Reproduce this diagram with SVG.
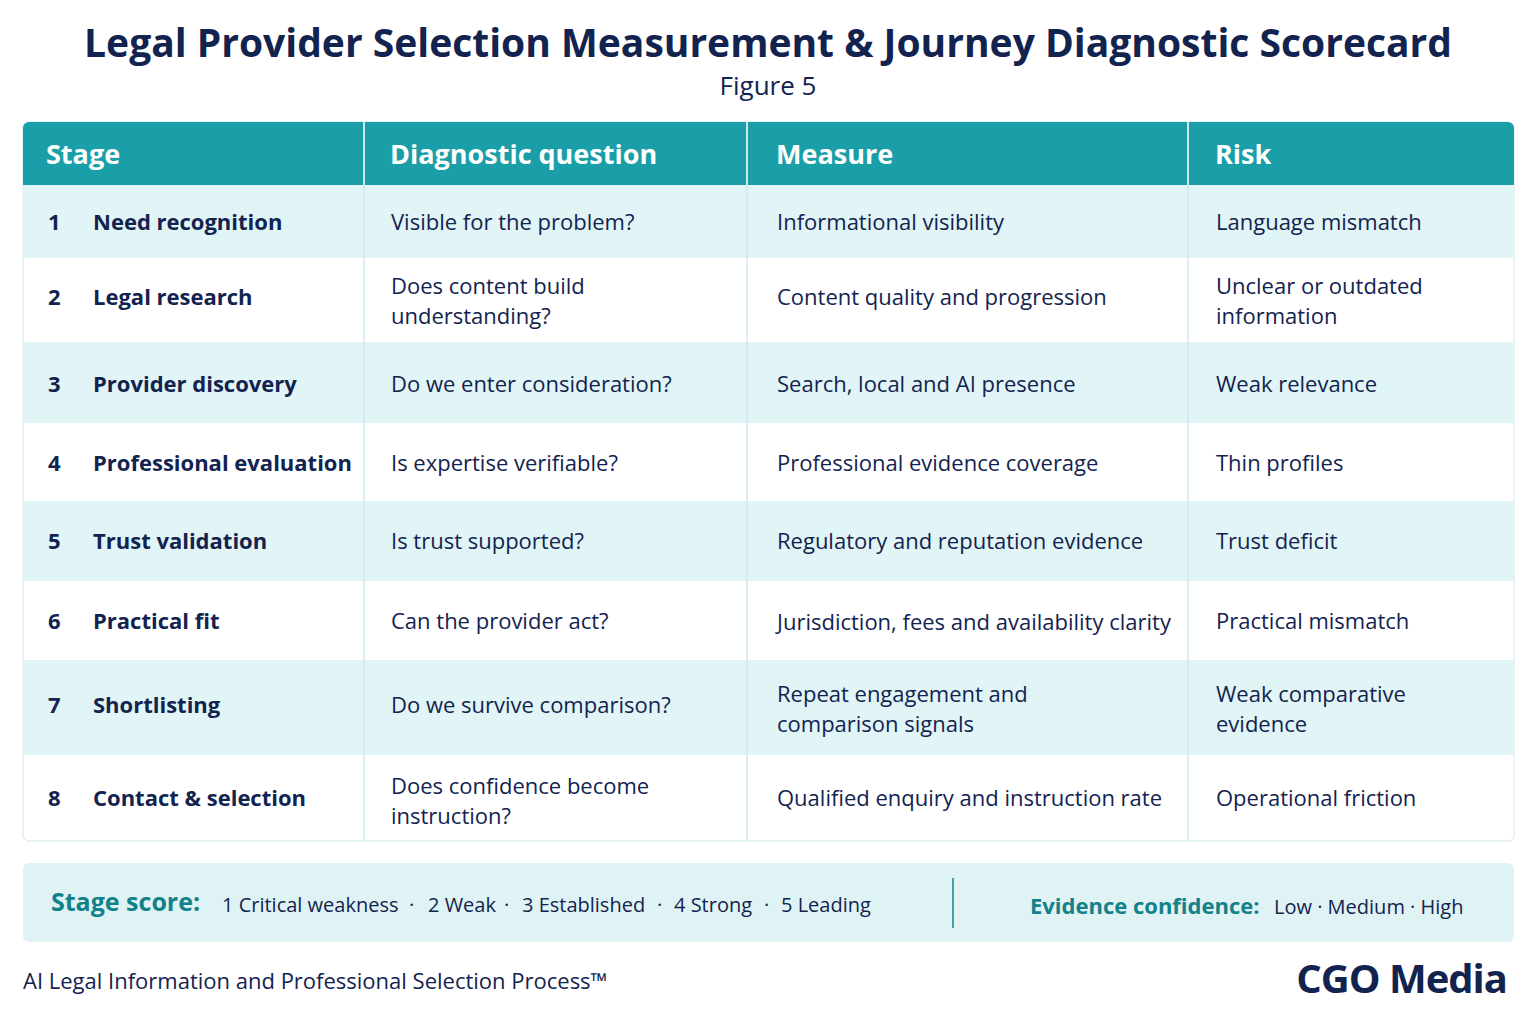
<svg xmlns="http://www.w3.org/2000/svg" width="1536" height="1024" viewBox="0 0 1536 1024">
<style>
text{font-family:"Open Sans","Liberation Sans",sans-serif;fill:#13234f}
.h{font-size:27px;font-weight:bold;fill:#fff}
.c{font-size:22px}
.n{font-size:22px;font-weight:bold}
.t{fill:#13818a;font-weight:bold}
.s{font-size:20px}
</style>
<rect width="1536" height="1024" fill="#fff"/>
<text x="768" y="57" text-anchor="middle" style="font-size:39px;font-weight:bold">Legal Provider Selection Measurement &amp; Journey Diagnostic Scorecard</text>
<text x="768" y="95" text-anchor="middle" style="font-size:26px">Figure 5</text>
<g id="table">
<rect x="23" y="122" width="1491" height="719" rx="6" fill="#fff" stroke="#cfe9ec"/>
<path d="M29 122H1508a6 6 0 0 1 6 6V185H23V128a6 6 0 0 1 6-6z" fill="#1a9fa8"/>
<g fill="#e1f4f6">
<rect x="24" y="185" width="1489" height="73"/>
<rect x="24" y="342" width="1489" height="81"/>
<rect x="24" y="501" width="1489" height="80"/>
<rect x="24" y="660" width="1489" height="95"/>
</g>
<g stroke="#cfe9ec" stroke-width="1.5">
<path d="M364 122V841M747 122V841M1188 122V841" />
</g>
<path d="M364 122V185M747 122V185M1188 122V185" stroke="#ffffff" stroke-opacity="0.6" stroke-width="1.5"/>
<text class="h" x="46" y="164">Stage</text>
<text class="h" x="390" y="164">Diagnostic question</text>
<text class="h" x="776" y="164">Measure</text>
<text class="h" x="1215" y="164">Risk</text>
<g id="rows">
<text class="n" x="48" y="230">1</text><text class="n" x="93" y="230">Need recognition</text><text class="c" x="391" y="230">Visible for the problem?</text><text class="c" x="777" y="230">Informational visibility</text><text class="c" x="1216" y="230">Language mismatch</text>
<text class="n" x="48" y="305">2</text><text class="n" x="93" y="305">Legal research</text><text class="c" x="391" y="294">Does content build</text><text class="c" x="391" y="324">understanding?</text><text class="c" x="777" y="305">Content quality and progression</text><text class="c" x="1216" y="294">Unclear or outdated</text><text class="c" x="1216" y="324">information</text>
<text class="n" x="48" y="392">3</text><text class="n" x="93" y="392">Provider discovery</text><text class="c" x="391" y="392">Do we enter consideration?</text><text class="c" x="777" y="392">Search, local and AI presence</text><text class="c" x="1216" y="392">Weak relevance</text>
<text class="n" x="48" y="471">4</text><text class="n" x="93" y="471">Professional evaluation</text><text class="c" x="391" y="471">Is expertise verifiable?</text><text class="c" x="777" y="471">Professional evidence coverage</text><text class="c" x="1216" y="471">Thin profiles</text>
<text class="n" x="48" y="549">5</text><text class="n" x="93" y="549">Trust validation</text><text class="c" x="391" y="549">Is trust supported?</text><text class="c" x="777" y="549">Regulatory and reputation evidence</text><text class="c" x="1216" y="549">Trust deficit</text>
<text class="n" x="48" y="629">6</text><text class="n" x="93" y="629">Practical fit</text><text class="c" x="391" y="629">Can the provider act?</text><text class="c" x="777" y="630">Jurisdiction, fees and availability clarity</text><text class="c" x="1216" y="629">Practical mismatch</text>
<text class="n" x="48" y="713">7</text><text class="n" x="93" y="713">Shortlisting</text><text class="c" x="391" y="713">Do we survive comparison?</text><text class="c" x="777" y="702">Repeat engagement and</text><text class="c" x="777" y="732">comparison signals</text><text class="c" x="1216" y="702">Weak comparative</text><text class="c" x="1216" y="732">evidence</text>
<text class="n" x="48" y="806">8</text><text class="n" x="93" y="806">Contact &amp; selection</text><text class="c" x="391" y="794">Does confidence become</text><text class="c" x="391" y="824">instruction?</text><text class="c" x="777" y="806">Qualified enquiry and instruction rate</text><text class="c" x="1216" y="806">Operational friction</text>
</g>
</g>
<g id="legend">
<rect x="23" y="863" width="1491" height="79" rx="6" fill="#dff3f5"/>
<path d="M953 878V928" stroke="#13818a" stroke-width="1.5"/>
<text x="51" y="911" class="t" style="font-size:25px">Stage score:</text>
<text y="912" class="s"><tspan x="222">1 Critical weakness</tspan><tspan x="409">·</tspan><tspan x="428">2 Weak</tspan><tspan x="504">·</tspan><tspan x="522">3 Established</tspan><tspan x="657">·</tspan><tspan x="674">4 Strong</tspan><tspan x="764">·</tspan><tspan x="781">5 Leading</tspan></text>
<text x="1030" y="914" class="t" style="font-size:22px">Evidence confidence:</text>
<text x="1274" y="914" class="s">Low · Medium · High</text>
</g>
<text x="23" y="989" style="font-size:22px">AI Legal Information and Professional Selection Process™</text>
<text x="1507" y="993" text-anchor="end" style="font-size:40px;font-weight:bold;letter-spacing:-1px">CGO Media</text>
</svg>
